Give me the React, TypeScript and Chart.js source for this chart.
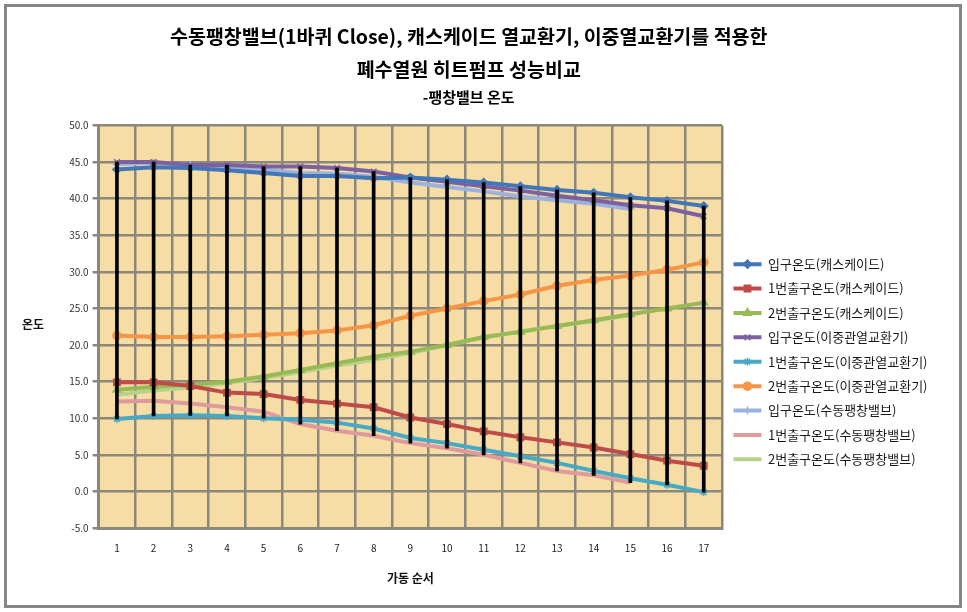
import React, { useEffect, useRef } from 'react';
import { Chart, registerables } from 'chart.js';
import { drawPoint } from 'chart.js/helpers';

Chart.register(...registerables);

const FONT = '"Noto Sans CJK KR", "Noto Sans", sans-serif';

const categories = ['1', '2', '3', '4', '5', '6', '7', '8', '9', '10', '11', '12', '13', '14', '15', '16', '17'];

const titleLines = ['수동팽창밸브(1바퀴 Close), 캐스케이드 열교환기, 이중열교환기를 적용한', '폐수열원 히트펌프 성능비교'];
const subTitle = '-팽창밸브 온도';
const xTitle = '가동 순서';
const yTitle = '온도';

const yMin = -5;
const yMax = 50;
const yStep = 5;

const seriesNames = [
  '입구온도(캐스케이드)',
  '1번출구온도(캐스케이드)',
  '2번출구온도(캐스케이드)',
  '입구온도(이중관열교환기)',
  '1번출구온도(이중관열교환기)',
  '2번출구온도(이중관열교환기)',
  '입구온도(수동팽창밸브)',
  '1번출구온도(수동팽창밸브)',
  '2번출구온도(수동팽창밸브)',
];

const cascadeIn = [44.0, 44.3, 44.2, 43.9, 43.5, 43.1, 43.1, 42.8, 42.9, 42.6, 42.2, 41.7, 41.2, 40.8, 40.2, 39.7, 39.0];
const cascadeOut1 = [14.9, 14.9, 14.4, 13.5, 13.3, 12.5, 12.0, 11.5, 10.1, 9.2, 8.2, 7.4, 6.7, 6.0, 5.1, 4.2, 3.5];
const cascadeOut2 = [13.9, 14.3, 14.6, 15.0, 15.7, 16.6, 17.5, 18.4, 19.1, 20.0, 21.1, 21.8, 22.6, 23.4, 24.2, 25.0, 25.8];
const doubleIn = [45.0, 45.0, 44.6, 44.6, 44.4, 44.4, 44.2, 43.7, 42.9, 42.3, 41.7, 41.1, 40.4, 39.8, 39.1, 38.7, 37.6];
const doubleOut1 = [9.9, 10.3, 10.4, 10.3, 10.0, 9.8, 9.4, 8.6, 7.3, 6.6, 5.7, 4.8, 3.9, 2.8, 1.8, 0.9, -0.1];
const doubleOut2 = [21.3, 21.1, 21.1, 21.2, 21.4, 21.6, 22.0, 22.7, 24.0, 25.0, 26.0, 26.9, 28.1, 28.9, 29.5, 30.3, 31.3];
const manualIn = [44.7, 44.9, 44.6, 44.3, 44.0, 43.5, 43.4, 43.0, 42.2, 41.6, 41.0, 40.3, 39.8, 39.3, 38.6];
const manualOut1 = [12.3, 12.4, 12.0, 11.5, 10.9, 9.2, 8.3, 7.6, 6.6, 5.9, 5.0, 3.9, 2.8, 2.2, 1.2];
const manualOut2 = [13.2, 13.8, 14.2, 14.8, 15.5, 16.3, 17.2, 18.0, 18.9, 20.0, 21.0, 21.9, 22.6, 23.3, 24.1];

const seriesData = [cascadeIn, cascadeOut1, cascadeOut2, doubleIn, doubleOut1, doubleOut2, manualIn, manualOut1, manualOut2];
const seriesColors = ['#4176B8', '#BE4B48', '#98B954', '#7D60A0', '#46AAC5', '#F59646', '#9BB3DC', '#DE9A9C', '#B8D28E'];
const seriesMarkers = ['rectRot', 'rect', 'triangle', 'crossRot', 'star', 'circle', 'cross', false, false];
const seriesRadius = [4, 4.5, 4.5, 4, 4, 4, 4, 0, 0];

const highLow = categories.map((_, i) => {
  const vals = seriesData.map((s) => s[i]).filter((v) => v !== undefined);
  return [Math.min(...vals), Math.max(...vals)];
});

const PLOT_BG = '#F6DCA5';
const GRID = '#8C877C';
const LEGEND_FONT = 13;

export default function App() {
  const canvasRef = useRef<HTMLCanvasElement | null>(null);

  useEffect(() => {
    document.body.style.margin = '0';
    const canvas = canvasRef.current;
    if (!canvas) return;

    const lineSets = seriesData.map((data, i) => ({
      type: 'line',
      label: seriesNames[i],
      data,
      borderColor: seriesColors[i],
      backgroundColor: seriesColors[i],
      pointBackgroundColor: seriesColors[i],
      pointBorderColor: seriesColors[i],
      pointStyle: seriesMarkers[i],
      pointRadius: seriesRadius[i],
      pointBorderWidth: 1.5,
      borderWidth: 4,
      tension: 0,
      fill: false,
      order: 1,
    }));

    const hlSet = {
      type: 'bar',
      label: '',
      data: highLow,
      backgroundColor: '#000000',
      borderWidth: 0,
      barThickness: 3,
      order: 0,
    };

    const bgPlugin = {
      id: 'plotBg',
      beforeDraw(chart: any) {
        const { ctx, chartArea } = chart;
        ctx.save();
        ctx.fillStyle = PLOT_BG;
        ctx.fillRect(chartArea.left, chartArea.top, chartArea.right - chartArea.left, chartArea.bottom - chartArea.top);
        ctx.restore();
      },
    };

    const legendShift = {
      id: 'legendShift',
      afterLayout(chart: any) {
        const l = chart.legend;
        if (l) {
          l.top += 35;
          l.bottom += 35;
        }
      },
    };

    const extras = {
      id: 'extras',
      afterDraw(chart: any) {
        const { ctx, chartArea } = chart;
        ctx.save();
        ctx.fillStyle = '#111';
        ctx.font = `bold 12px ${FONT}`;
        ctx.textAlign = 'center';
        ctx.textBaseline = 'middle';
        ctx.fillText(yTitle, 33, (chartArea.top + chartArea.bottom) / 2 - 2);
        const legend = chart.legend;
        if (legend && legend.legendHitBoxes) {
          legend.legendItems.forEach((item: any, i: number) => {
            const hb = legend.legendHitBoxes[i];
            const ds = chart.data.datasets[item.datasetIndex];
            if (!hb || !ds || !ds.pointStyle || !ds.pointRadius) return;
            ctx.fillStyle = ds.pointBackgroundColor;
            ctx.strokeStyle = ds.pointBorderColor;
            ctx.lineWidth = 1.5;
            drawPoint(ctx, { pointStyle: ds.pointStyle, rotation: 0, radius: ds.pointRadius, borderWidth: 1.5 }, hb.left + 14, hb.top + LEGEND_FONT / 2);
          });
        }
        ctx.restore();
      },
    };

    const chart = new Chart(canvas, {
      type: 'line',
      data: { labels: categories, datasets: [...lineSets, hlSet] as any },
      options: {
        animation: false,
        responsive: false,
        maintainAspectRatio: false,
        layout: { padding: { left: 0, right: 29.5, top: 0, bottom: 0 } },
        plugins: {
          title: {
            display: true,
            text: titleLines,
            color: '#000',
            font: { family: FONT, size: 19.5, weight: 'bold', lineHeight: 33 / 19.5 },
            padding: { top: 20.5, bottom: 0 },
          },
          subtitle: {
            display: true,
            text: subTitle,
            color: '#000',
            font: { family: FONT, size: 15, weight: 'bold', lineHeight: 1.2 },
            padding: { top: 1.5, bottom: 19.5 },
          },
          legend: {
            display: true,
            position: 'right',
            fullSize: false,
            labels: {
              boxWidth: 28,
              boxHeight: 4,
              padding: 11.4,
              color: '#1a1a1a',
              font: { family: FONT, size: LEGEND_FONT },
              generateLabels(chart: any) {
                const items = Chart.defaults.plugins.legend.labels.generateLabels(chart);
                return items
                  .filter((it: any) => it.text !== '')
                  .map((it: any) => ({ ...it, lineWidth: 0, fillStyle: it.strokeStyle }));
              },
            },
          },
          tooltip: { enabled: false },
        },
        scales: {
          x: {
            type: 'category',
            offset: true,
            grid: { display: true, offset: true, color: GRID, lineWidth: 2.5, drawTicks: false },
            border: { display: true, color: GRID, width: 3 },
            ticks: { color: '#222', font: { family: FONT, size: 10 }, padding: 14, maxRotation: 0, autoSkip: false },
            title: {
              display: true,
              text: xTitle,
              color: '#111',
              font: { family: FONT, size: 12, weight: 'bold' },
              padding: { top: 2.8, bottom: 26.8 },
            },
          },
          y: {
            type: 'linear',
            min: yMin,
            max: yMax,
            ticks: {
              stepSize: yStep,
              color: '#333',
              font: { family: FONT, size: 10 },
              padding: 4,
              callback: (v: any) => Number(v).toFixed(1),
            },
            grid: { color: GRID, lineWidth: 2.5, drawTicks: true, tickLength: 6, tickColor: GRID },
            border: { display: true, color: GRID, width: 3 },
            afterFit(scale: any) {
              scale.width = 98.6;
            },
          },
        },
      },
      plugins: [bgPlugin, legendShift, extras],
    } as any);

    return () => chart.destroy();
  }, []);

  return (
    <div style={{ position: 'relative', width: 967, height: 612, background: '#fff' }}>
      <div
        style={{
          position: 'absolute',
          left: 4,
          top: 4,
          width: 958,
          height: 604,
          border: '3px solid #868686',
          boxSizing: 'border-box',
        }}
      />
      <canvas ref={canvasRef} width={967} height={612} style={{ position: 'absolute', left: 0, top: 0, width: 967, height: 612 }} />
    </div>
  );
}
